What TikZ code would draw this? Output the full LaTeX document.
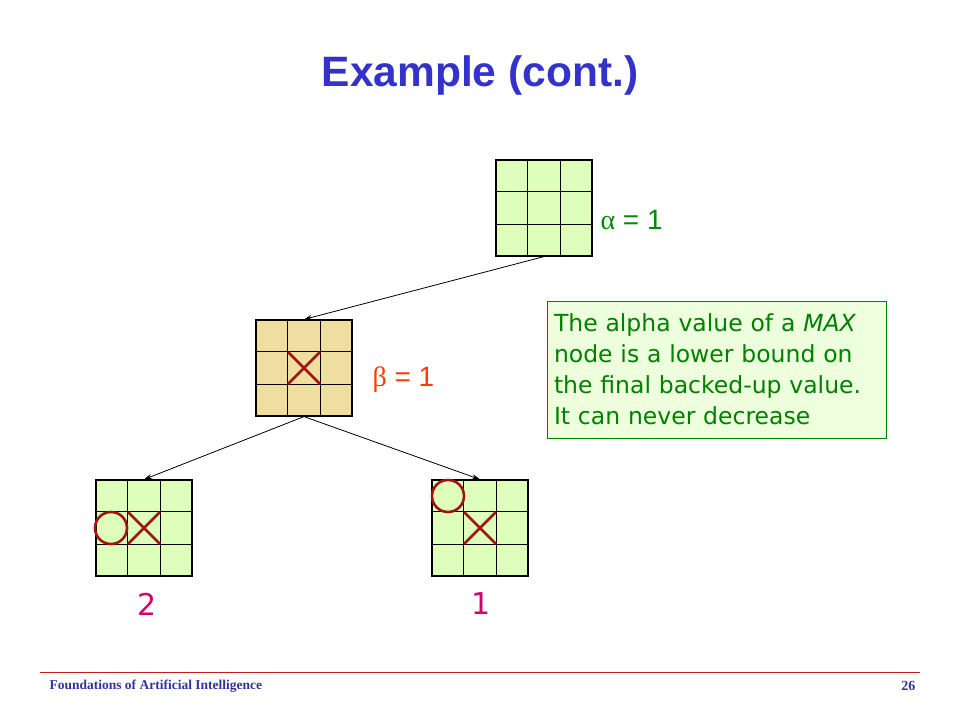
\documentclass[tikz,border=0pt]{standalone}
\usepackage{fontspec}
\setmainfont{Liberation Sans}
\newfontfamily\notefont{DejaVu Sans}
\newfontfamily\footfont{Liberation Serif}
\usetikzlibrary{calc,arrows.meta}
\definecolor{titleblue}{RGB}{51,51,204}
\definecolor{cellgreen}{RGB}{221,255,187}
\definecolor{celltan}{RGB}{240,222,160}
\definecolor{markred}{RGB}{160,20,20}
\definecolor{alphagreen}{RGB}{0,140,0}
\definecolor{betaorange}{RGB}{255,60,0}
\definecolor{valpink}{RGB}{210,0,110}
\definecolor{notegreen}{RGB}{0,128,0}
\definecolor{notefill}{RGB}{238,255,221}
\definecolor{footblue}{RGB}{51,51,153}
\definecolor{footred}{RGB}{190,30,30}
\tikzset{
  board/.style={draw, line width=1.2pt, minimum size=96pt, inner sep=0pt, fill=cellgreen},
  xoline/.style={draw=markred, line width=2.6pt},
  edge/.style={line width=0.8pt, -{Stealth[length=8pt,width=5pt]}},
  notebox/.style={draw=notegreen, line width=1pt, fill=notefill, text=notegreen,
    minimum width=339pt, minimum height=137pt, text width=325pt, align=left, inner sep=7pt}
}
\begin{document}
\begin{tikzpicture}[x=1pt,y=-1pt]
\useasboundingbox (0,0) rectangle (960,720);
% title
\node[text=titleblue, font=\fontsize{42.5}{50}\selectfont\bfseries] (title) at (480,76) {Example (cont.)};
% boards
\node[board] (top) at (544,208) {};
\node[board, fill=celltan] (mid) at (304,368) {};
\node[board] (left) at (144,528) {};
\node[board] (right) at (480,528) {};
\foreach \b in {top,mid,left,right}
  \foreach \i in {1,2} {
    \draw[line width=1.2pt] ($(\b.north west)!\i/3!(\b.north east)$) -- ($(\b.south west)!\i/3!(\b.south east)$);
    \draw[line width=1.2pt] ($(\b.north west)!\i/3!(\b.south west)$) -- ($(\b.north east)!\i/3!(\b.south east)$);
  }
% X and O marks
\draw[xoline] (288,352) -- (320,384) (320,352) -- (288,384);
\draw[xoline] (128,512) -- (160,544) (160,512) -- (128,544);
\draw[xoline] (111,528) circle (16);
\draw[xoline] (464,512) -- (496,544) (496,512) -- (464,544);
\draw[xoline] (448,496) circle (16);
% edges
\draw[edge] (top.south) -- (mid.north);
\draw[edge] (mid.south) -- (left.north);
\draw[edge] (mid.south) -- (right.north);
% labels
\node[text=alphagreen, anchor=west, font=\fontsize{28}{32}\selectfont] (alpha) at (597,220) {{\footfont α} = 1};
\node[text=betaorange, anchor=west, font=\fontsize{28}{32}\selectfont] (beta) at (369,380) {{\footfont β} = 1};
\node[text=valpink, font=\notefont\fontsize{30}{34}\selectfont] (vleft) at (147,604) {2};
\node[text=valpink, font=\notefont\fontsize{30}{34}\selectfont] (vright) at (481,604) {1};
\node[notebox, font=\notefont\fontsize{23.5}{31}\selectfont] (note) at (716.5,369.5)
  {The alpha value of a \textit{MAX}\\node is a lower bound on\\the final backed-up value.\\It can never decrease};
% footer
\draw[footred, line width=1pt] (40,672) -- (920,672);
\node[text=footblue, anchor=west, font=\footfont\bfseries\fontsize{13.5}{15}\selectfont] (foot) at (46,686) {Foundations of Artificial Intelligence};
\node[text=footblue, anchor=east, font=\footfont\bfseries\fontsize{14}{16}\selectfont] (page) at (919,686) {26};
\end{tikzpicture}
\end{document}
